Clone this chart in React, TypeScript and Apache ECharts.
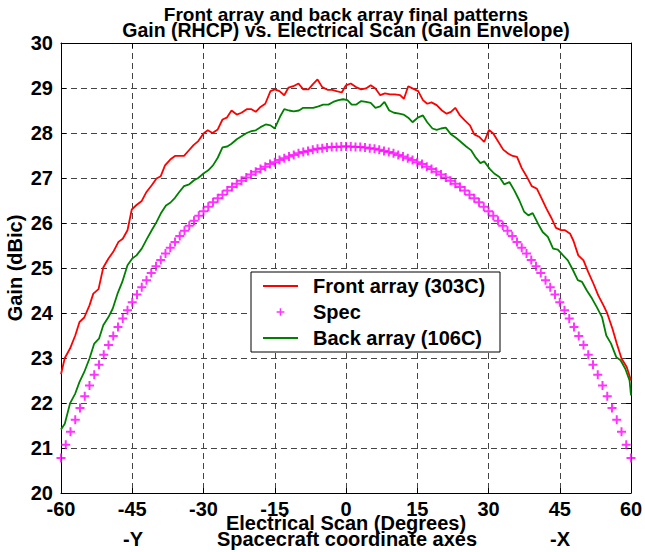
import React, { useEffect, useRef } from "react";
import * as echarts from "echarts";

const FONT = '"Liberation Sans", Arial, Helvetica, sans-serif';

const titleLines = [
  "Front array and back array final patterns",
  "Gain (RHCP) vs. Electrical Scan (Gain Envelope)",
];
const xAxisName = "Electrical Scan (Degrees)";
const yAxisName = "Gain (dBic)";
const subAxisLabels = ["-Y", "Spacecraft coordinate axes", "-X"];
const seriesNames = ["Front array (303C)", "Spec", "Back array (106C)"];

const frontScan = [
  -60, -59.2, -58.1, -57, -56.1, -55.1, -54, -53.2, -52.1, -51.1, -50, -49, -47.9, -47, -46,
  -45.1, -44.1, -43, -42, -40.9, -39.9, -39, -38.1, -37, -36, -34.1, -33.2, -32.1, -31.1, -30,
  -29.1, -28.1, -27, -26, -25.1, -24.1, -23, -22, -20.9, -19.9, -19, -18, -17, -15.9, -15,
  -14, -13, -12.1, -11.1, -10, -9, -7.9, -7, -6, -5, -3.9, -2.9, -2, -0.9, 0,
  1, 2.1, 3.2, 4.2, 5.2, 6.2, 7.2, 8.2, 9.3, 10.3, 11.4, 12.2, 13.1, 14.2, 15.2,
  16.2, 17.1, 18, 19.1, 20.2, 21.2, 22.1, 23, 24, 25, 26.1, 27, 28.1, 29.1, 30.1,
  31, 32.1, 33.1, 34.2, 35.1, 36, 37, 38, 39.1, 40.2, 41.2, 42.2, 43.3, 44.2, 45.3,
  46.1, 47.2, 47.9, 48.9, 50, 51, 52.1, 53.1, 54.2, 55, 56.1, 57, 58, 59.1, 60,
];
const frontGain = [
  22.64, 23.0, 23.21, 23.5, 23.8, 23.9, 24.17, 24.43, 24.53, 25.01, 25.21, 25.36, 25.58, 25.65, 25.84,
  26.3, 26.4, 26.49, 26.69, 26.84, 26.99, 27.04, 27.28, 27.41, 27.49, 27.49, 27.6, 27.73, 27.82, 27.99,
  28.06, 28.0, 28.08, 28.3, 28.34, 28.5, 28.41, 28.45, 28.53, 28.53, 28.47, 28.58, 28.65, 28.93, 28.97,
  28.93, 28.84, 29.01, 29.04, 29.1, 28.97, 28.97, 29.08, 29.19, 29.02, 28.96, 28.96, 28.93, 28.9, 29.06,
  29.1, 29.02, 28.97, 28.99, 29.06, 28.99, 28.84, 28.88, 28.86, 28.86, 28.84, 28.76, 29.04, 28.98, 28.93,
  28.73, 28.65, 28.68, 28.62, 28.5, 28.43, 28.47, 28.56, 28.39, 28.28, 28.17, 27.97, 27.91, 27.8, 28.07,
  27.99, 27.8, 27.63, 27.54, 27.49, 27.47, 27.22, 27.04, 26.82, 26.76, 26.54, 26.32, 26.1, 25.89, 25.84,
  25.84, 25.76, 25.6, 25.28, 25.17, 24.91, 24.65, 24.39, 24.17, 23.99, 23.65, 23.32, 22.99, 22.8, 22.5,
];

const backScan = [
  -60, -59.2, -58.1, -57, -56.1, -55.1, -54, -53, -52, -51.1, -50, -49.1, -48.1, -47.1, -46,
  -45, -44.1, -43, -42, -40.9, -39.9, -39, -37.9, -37, -36, -35.1, -34.1, -33, -32, -31.1,
  -30, -29, -28, -27, -26, -25, -24.1, -23, -22, -20.9, -19.9, -19, -18, -16.9, -15.9,
  -15, -13.9, -13, -12, -11, -9.9, -9, -7.9, -6.9, -5.8, -4.8, -3.7, -2.7, -1.6, -0.6,
  0.3, 1.2, 2.1, 3.2, 4.2, 5.2, 6.2, 7.2, 8.1, 9.1, 10.1, 11.2, 12.1, 13.1, 14,
  15.1, 16.2, 17.1, 18.2, 19.1, 20, 21, 22.1, 23.2, 24.2, 25.3, 26.3, 27.2, 28.3, 29.1,
  30.2, 31.2, 32.3, 33.3, 34.4, 35.4, 36.5, 37.5, 38.4, 39.3, 40.4, 41.4, 42.5, 43.6, 44.6,
  45.7, 46.7, 47.8, 48.8, 49.7, 50.7, 51.8, 52.8, 53.9, 54.8, 55.8, 56.9, 57.8, 58.8, 59.7, 60,
];
const backGain = [
  21.41, 21.54, 21.99, 22.21, 22.47, 22.69, 22.99, 23.32, 23.43, 23.73, 23.91, 24.1, 24.43, 24.69, 25.06,
  25.21, 25.28, 25.43, 25.63, 25.84, 26.02, 26.21, 26.39, 26.45, 26.56, 26.69, 26.82, 26.86, 26.95, 27.0,
  27.1, 27.17, 27.28, 27.45, 27.68, 27.7, 27.76, 27.86, 27.93, 28.0, 28.04, 28.06, 28.13, 28.19, 28.17,
  28.1, 28.36, 28.53, 28.5, 28.48, 28.5, 28.56, 28.56, 28.56, 28.59, 28.63, 28.63, 28.69, 28.73, 28.75,
  28.73, 28.63, 28.63, 28.71, 28.69, 28.67, 28.56, 28.59, 28.69, 28.5, 28.45, 28.43, 28.41, 28.34, 28.24,
  28.34, 28.39, 28.24, 28.1, 28.07, 28.1, 28.12, 27.97, 27.89, 27.8, 27.7, 27.62, 27.47, 27.33, 27.37,
  27.21, 27.1, 27.02, 26.86, 26.91, 26.73, 26.5, 26.25, 26.17, 26.22, 25.99, 25.8, 25.69, 25.43, 25.41,
  25.28, 25.17, 24.95, 24.73, 24.69, 24.5, 24.32, 24.13, 23.91, 23.5, 23.32, 23.02, 22.95, 22.76, 22.5, 22.17,
];

const specScan = [
  -60, -59, -58, -57, -56, -55, -54, -53, -52, -51, -50, -49, -48, -47, -46, -45, -44, -43, -42, -41,
  -40, -39, -38, -37, -36, -35, -34, -33, -32, -31, -30, -29, -28, -27, -26, -25, -24, -23, -22, -21,
  -20, -19, -18, -17, -16, -15, -14, -13, -12, -11, -10, -9, -8, -7, -6, -5, -4, -3, -2, -1,
  0, 1, 2, 3, 4, 5, 6, 7, 8, 9, 10, 11, 12, 13, 14, 15, 16, 17, 18, 19,
  20, 21, 22, 23, 24, 25, 26, 27, 28, 29, 30, 31, 32, 33, 34, 35, 36, 37, 38, 39,
  40, 41, 42, 43, 44, 45, 46, 47, 48, 49, 50, 51, 52, 53, 54, 55, 56, 57, 58, 59, 60,
];
const specGain = [
  20.78, 21.07, 21.36, 21.63, 21.89, 22.15, 22.39, 22.63, 22.85, 23.07, 23.29, 23.49, 23.69, 23.88, 24.06, 24.24, 24.41, 24.57, 24.73, 24.89,
  25.04, 25.18, 25.32, 25.45, 25.58, 25.71, 25.83, 25.94, 26.05, 26.16, 26.26, 26.36, 26.46, 26.55, 26.63, 26.72, 26.8, 26.87, 26.94, 27.01,
  27.08, 27.14, 27.2, 27.25, 27.31, 27.35, 27.4, 27.44, 27.48, 27.51, 27.55, 27.58, 27.6, 27.63, 27.65, 27.66, 27.68, 27.69, 27.69, 27.7,
  27.7, 27.7, 27.69, 27.69, 27.68, 27.66, 27.65, 27.63, 27.6, 27.58, 27.55, 27.51, 27.48, 27.44, 27.4, 27.35, 27.31, 27.25, 27.2, 27.14,
  27.08, 27.01, 26.94, 26.87, 26.8, 26.72, 26.63, 26.55, 26.46, 26.36, 26.26, 26.16, 26.05, 25.94, 25.83, 25.71, 25.58, 25.45, 25.32, 25.18,
  25.04, 24.89, 24.73, 24.57, 24.41, 24.24, 24.06, 23.88, 23.69, 23.49, 23.29, 23.07, 22.85, 22.63, 22.39, 22.15, 21.89, 21.63, 21.36, 21.07, 20.78,
];

const zip = (xs: number[], ys: number[]) => xs.map((x, i) => [x, ys[i]]);

const PLUS_MARK = "path://M3.9,0h2.2v10h-2.2z M0,3.9h10v2.2h-10z";
const PLUS_LEGEND = "path://M0,0L0,0Z M14,14L14,14Z M6.1,2.5h1.8v9h-1.8z M2.5,6.1h9v1.8h-9z";
const LINE_LEGEND = "path://M0,5h35v2h-35z";

export default function App() {
  const ref = useRef<HTMLDivElement>(null);

  useEffect(() => {
    if (!ref.current) return;
    const chart = echarts.init(ref.current, null, { renderer: "svg" });
    const grid = { left: 61, top: 43, right: 14, bottom: 59, containLabel: false, outerBoundsMode: "none" };
    const tickFont = { fontFamily: FONT, fontWeight: "bold" as const, fontSize: 20, color: "#000" };
    const subFont = `bold 20px ${FONT}`;

    chart.setOption({
      animation: false,
      backgroundColor: "#fff",
      grid,
      graphic: [
        {
          type: "text",
          x: 346,
          y: 14,
          style: { text: titleLines[0], textAlign: "center", textVerticalAlign: "middle", font: `bold 19px ${FONT}`, fill: "#000" },
        },
        {
          type: "text",
          x: 346,
          y: 30,
          style: { text: titleLines[1], textAlign: "center", textVerticalAlign: "middle", font: `bold 19.5px ${FONT}`, fill: "#000" },
        },
        {
          type: "text",
          x: 133,
          y: 539,
          style: { text: subAxisLabels[0], textAlign: "center", textVerticalAlign: "middle", font: subFont, lineHeight: 14, fill: "#000" },
        },
        {
          type: "text",
          x: 347,
          y: 539,
          style: { text: subAxisLabels[1], textAlign: "center", textVerticalAlign: "middle", font: subFont, lineHeight: 14, fill: "#000" },
        },
        {
          type: "text",
          x: 560,
          y: 539,
          style: { text: subAxisLabels[2], textAlign: "center", textVerticalAlign: "middle", font: subFont, lineHeight: 14, fill: "#000" },
        },
      ],
      legend: {
        left: 251,
        top: 272,
        orient: "vertical",
        backgroundColor: "#fff",
        borderColor: "#000",
        borderWidth: 1,
        padding: [4, 12, 4, 12],
        itemGap: 6,
        itemWidth: 35,
        itemHeight: 12,
        selectedMode: false,
        textStyle: { ...tickFont, lineHeight: 20, width: 175, padding: [0, 0, 0, 10] },
        data: [
          { name: seriesNames[0], icon: LINE_LEGEND },
          { name: seriesNames[1], icon: PLUS_LEGEND },
          { name: seriesNames[2], icon: LINE_LEGEND },
        ],
      },
      xAxis: [
        {
          type: "value",
          min: -60,
          max: 60,
          interval: 15,
          name: xAxisName,
          nameLocation: "middle",
          nameGap: 23,
          nameMoveOverlap: false,
          nameTextStyle: { ...tickFont, lineHeight: 14 },
          axisLine: { show: true, onZero: false, lineStyle: { color: "#000", width: 1 } },
          axisTick: { show: true, inside: true, length: 5, lineStyle: { color: "#000" } },
          axisLabel: { ...tickFont, lineHeight: 14, margin: 9 },
          splitLine: { show: true, showMinLine: false, showMaxLine: false, lineStyle: { color: "#444", type: [6, 4], width: 1 } },
        },
        {
          type: "value",
          position: "top",
          min: -60,
          max: 60,
          interval: 15,
          axisLine: { show: true, onZero: false, lineStyle: { color: "#000", width: 1 } },
          axisTick: { show: true, inside: true, length: 5, lineStyle: { color: "#000" } },
          axisLabel: { show: false },
          splitLine: { show: false },
        },
      ],
      yAxis: [
        {
          type: "value",
          min: 20,
          max: 30,
          interval: 1,
          name: yAxisName,
          nameLocation: "middle",
          nameGap: 36,
          nameMoveOverlap: false,
          nameTextStyle: { ...tickFont },
          axisLine: { show: true, onZero: false, lineStyle: { color: "#000", width: 1 } },
          axisTick: { show: true, inside: true, length: 5, lineStyle: { color: "#000" } },
          axisLabel: { ...tickFont, margin: 8 },
          splitLine: { show: true, showMinLine: false, showMaxLine: false, lineStyle: { color: "#444", type: [6, 4], width: 1 } },
        },
        {
          type: "value",
          position: "right",
          min: 20,
          max: 30,
          interval: 1,
          axisLine: { show: true, onZero: false, lineStyle: { color: "#000", width: 1 } },
          axisTick: { show: true, inside: true, length: 5, lineStyle: { color: "#000" } },
          axisLabel: { show: false },
          splitLine: { show: false },
        },
      ],
      series: [
        {
          name: seriesNames[0],
          type: "line",
          data: zip(frontScan, frontGain),
          symbol: "none",
          color: "#ff0000",
          lineStyle: { color: "#ff0000", width: 1.8 },
          z: 3,
        },
        {
          name: seriesNames[1],
          type: "scatter",
          data: zip(specScan, specGain),
          symbol: PLUS_MARK,
          symbolSize: 9,
          color: "#ff00ff",
          itemStyle: { color: "#ff00ff" },
          z: 2,
        },
        {
          name: seriesNames[2],
          type: "line",
          data: zip(backScan, backGain),
          symbol: "none",
          color: "#008000",
          lineStyle: { color: "#008000", width: 1.8 },
          z: 3,
        },
      ],
    });

    return () => chart.dispose();
  }, []);

  return <div ref={ref} style={{ width: 645, height: 552, position: "absolute", left: 0, top: 0 }} />;
}
